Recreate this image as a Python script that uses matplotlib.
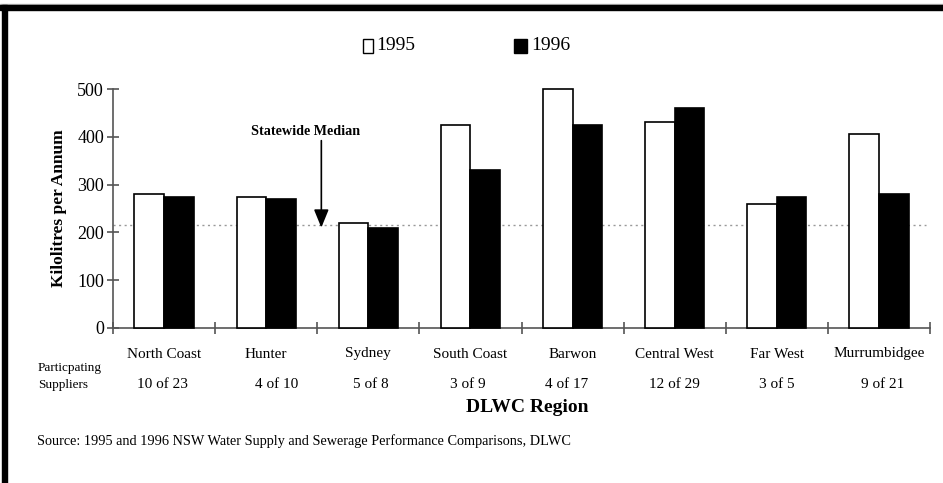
import numpy as np
import matplotlib.pyplot as plt
from matplotlib.patches import Rectangle
import matplotlib.transforms as mtransforms

plt.rcParams['font.family'] = ['Liberation Serif', 'DejaVu Serif']

# data
regions = ['North Coast', 'Hunter', 'Sydney', 'South Coast', 'Barwon',
           'Central West', 'Far West', 'Murrumbidgee']
suppliers = ['10 of 23', '4 of 10', '5 of 8', '3 of 9', '4 of 17',
             '12 of 29', '3 of 5', '9 of 21']
vals_1995 = [280, 275, 220, 425, 500, 430, 260, 405]
vals_1996 = [275, 270, 210, 330, 425, 460, 275, 280]
median = 215

# the supplier counts are not quite centred in the original (pixels)
count_shift = [-2, 10, 2.5, -3, -6, 0, 0, 3.5]

W, H = 943, 483
fig = plt.figure(figsize=(W / 100, H / 100), dpi=100)
ax = fig.add_axes([113 / W, 1 - 328 / H, (930 - 113) / W, (328 - 89) / H])

x = np.arange(len(regions)) + 0.5
bw = 0.29
ax.bar(x - bw / 2, vals_1995, bw, color='white', edgecolor='black',
       linewidth=1.2, zorder=3, clip_on=False)
ax.bar(x + bw / 2, vals_1996, bw, color='black', edgecolor='black',
       linewidth=1.2, zorder=3, clip_on=False)

# statewide median
ax.axhline(median, xmin=0.0, xmax=0.995, color='#999999', lw=1,
           ls=(0, (1.5, 2.5)), zorder=1)
ax.annotate('', xy=(2.04, median - 5), xytext=(2.04, 392),
            arrowprops=dict(arrowstyle='-|>,head_width=0.45,head_length=1.1',
                            color='black', lw=1.2, shrinkA=0, shrinkB=0))
ax.text(1.89, 412, 'Statewide Median', ha='center', va='center',
        fontsize=10.2, fontweight='bold')

ax.set_xlim(0, len(regions))
ax.set_ylim(0, 500)
ax.set_yticks([0, 100, 200, 300, 400, 500])
ax.set_xticks(np.arange(len(regions) + 1))
ax.set_xticklabels([])
ax.tick_params(axis='both', direction='inout', length=9, width=1.2,
               color='#555555', labelsize=13)
ax.tick_params(axis='y', pad=2)
for s in ['top', 'right']:
    ax.spines[s].set_visible(False)
for s in ['left', 'bottom']:
    ax.spines[s].set_color('#555555')
    ax.spines[s].set_linewidth(1.2)

trans = mtransforms.blended_transform_factory(ax.transData, fig.transFigure)
px = 1 / ((930 - 113) / len(regions))
for xi, r, s, d in zip(x, regions, suppliers, count_shift):
    ax.text(xi, 1 - 354 / H, r, transform=trans, ha='center', va='center',
            fontsize=11)
    ax.text(xi + d * px, 1 - 385 / H, s, transform=trans, ha='center',
            va='center', fontsize=11)

fig.text(38 / W, 1 - 368 / H, 'Particpating', fontsize=9.5, va='center')
fig.text(38 / W, 1 - 385 / H, 'Suppliers', fontsize=9.5, va='center')
fig.text(527 / W, 1 - 408 / H, 'DLWC Region', fontsize=14,
         fontweight='bold', ha='center', va='center')
fig.text(59 / W, 1 - 208 / H, 'Kilolitres per Annum', fontsize=12.5,
         fontweight='bold', rotation=90, ha='center', va='center')
fig.text(37 / W, 1 - 441 / H,
         'Source: 1995 and 1996 NSW Water Supply and Sewerage Performance '
         'Comparisons, DLWC', fontsize=10.3, va='center')

# legend
fig.patches.append(Rectangle((363 / W, 1 - 53 / H), 10 / W, 14 / H,
                             transform=fig.transFigure, facecolor='white',
                             edgecolor='black', lw=1))
fig.text(376 / W, 1 - 46 / H, '1995', fontsize=14, va='center')
fig.patches.append(Rectangle((514 / W, 1 - 53 / H), 13 / W, 14 / H,
                             transform=fig.transFigure, facecolor='black',
                             edgecolor='black', lw=1))
fig.text(531 / W, 1 - 46 / H, '1996', fontsize=14, va='center')

# frame
fig.patches.append(Rectangle((0, 1 - 5 / H), 1, 1.5 / H,
                             transform=fig.transFigure, color='#bbbbbb'))
fig.patches.append(Rectangle((0, 1 - 10 / H), 1, 5 / H,
                             transform=fig.transFigure, color='black'))
fig.patches.append(Rectangle((2 / W, 0), 5 / W, 1 - 5 / H,
                             transform=fig.transFigure, color='black'))

fig.savefig('out.png', dpi=100)
